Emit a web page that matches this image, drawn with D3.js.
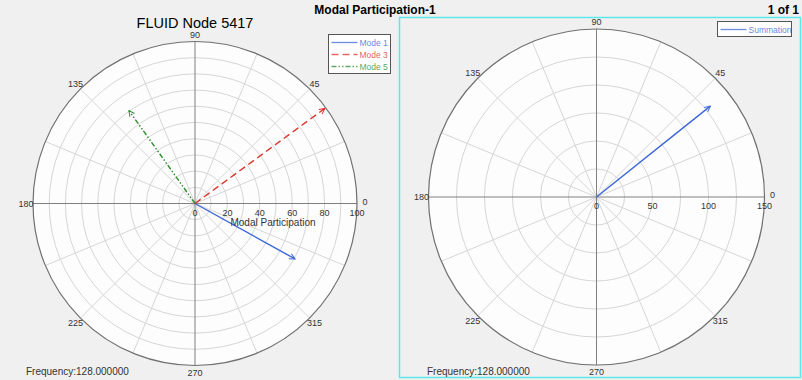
<!DOCTYPE html>
<html lang="en">
<head>
    <meta charset="UTF-8">
    <title>Modal Participation-1</title>
    <script src="https://d3js.org/d3.v7.min.js"></script>
    <style>
        body { margin: 0; background: #f0f0f0; font-family: "Liberation Sans", Arial, sans-serif; }
        svg { display: block; }
        .angle-label, .tick-label { font-size: 9px; fill: #333; text-anchor: middle; }
        .legend-text { font-size: 8.5px; }
    </style>
</head>
<body>
    <svg id="chart" width="802" height="380"></svg>

    <script>
        // values
        const modeNames = ["Mode 1", "Mode 3", "Mode 5"];
        const modeMagnitude = [70.6, 99.4, 70.4];
        const modePhase = [331, 36.2, 125.4];
        const modeColors = ["#3a66d6", "#d9352b", "#2e8b2e"];
        const modeDash = ["", "7,4", "5,2,1.5,2,1.5,2"];

        const sumNames = ["Summation"];
        const sumMagnitude = [130];
        const sumPhase = [38.6];

        const angleTicks = [0, 45, 90, 135, 180, 225, 270, 315];
        const spokeAngles = d3.range(0, 360, 22.5);
        const leftRadialTicks = [0, 20, 40, 60, 80, 100];
        const rightRadialTicks = [0, 50, 100, 150];

        const svg = d3.select("#chart");

        const defs = svg.append("defs");
        function arrowMarker(id, color) {
            defs.append("marker")
                .attr("id", id)
                .attr("viewBox", "0 0 10 10")
                .attr("refX", 9).attr("refY", 5)
                .attr("markerWidth", 7).attr("markerHeight", 7)
                .attr("markerUnits", "userSpaceOnUse")
                .attr("orient", "auto")
                .append("path")
                .attr("d", "M1,1 L9,5 L1,9")
                .attr("fill", "none")
                .attr("stroke", color)
                .attr("stroke-width", 1.4);
        }
        modeColors.forEach((c, i) => arrowMarker("arrow" + i, c));
        arrowMarker("arrowSum", "#3a66d6");

        // header
        svg.append("text")
            .attr("x", 375).attr("y", 14)
            .attr("text-anchor", "middle")
            .attr("font-size", 12).attr("font-weight", "bold")
            .text("Modal Participation-1");
        svg.append("text")
            .attr("x", 799).attr("y", 14)
            .attr("text-anchor", "end")
            .attr("font-size", 12).attr("font-weight", "bold")
            .text("1 of 1");

        // right panel frame
        svg.append("rect")
            .attr("x", 399.5).attr("y", 17.5)
            .attr("width", 401).attr("height", 360)
            .attr("fill", "none")
            .attr("stroke", "#5ee6ea")
            .attr("stroke-width", 1.5);

        function polarPlot(cx, cy, R, maxVal, ringStep, radialTicks, names, mags, phases, colors, dashes, markers) {
            const g = svg.append("g").attr("transform", `translate(${cx},${cy})`);
            const r = d3.scaleLinear().domain([0, maxVal]).range([0, R]);
            const rad = a => a * Math.PI / 180;

            g.append("circle").attr("r", R).attr("fill", "#fdfdfd");

            // rings
            g.selectAll(".ring")
                .data(d3.range(ringStep, maxVal, ringStep))
                .join("circle")
                .attr("r", d => r(d))
                .attr("fill", "none")
                .attr("stroke", "#d6d6d6")
                .attr("stroke-width", 1);

            // spokes
            g.selectAll(".spoke")
                .data(spokeAngles.filter(a => a % 90 !== 0))
                .join("line")
                .attr("x2", a => R * Math.cos(rad(a)))
                .attr("y2", a => -R * Math.sin(rad(a)))
                .attr("stroke", "#d6d6d6")
                .attr("stroke-width", 1);

            // main axes
            g.selectAll(".axis")
                .data([0, 90, 180, 270])
                .join("line")
                .attr("x2", a => R * Math.cos(rad(a)))
                .attr("y2", a => -R * Math.sin(rad(a)))
                .attr("stroke", "#808080")
                .attr("stroke-width", 1);

            g.append("circle").attr("r", R)
                .attr("fill", "none")
                .attr("stroke", "#707070")
                .attr("stroke-width", 1.2);

            // angle labels
            g.selectAll(".angle-label")
                .data(angleTicks)
                .join("text")
                .attr("class", "angle-label")
                .attr("x", a => (R + (a === 0 ? 8 : 7)) * Math.cos(rad(a)))
                .attr("y", a => -(R + 7) * Math.sin(rad(a)) + (a === 0 ? -2 : 0))
                .attr("dy", "0.35em")
                .text(d => d);

            // radial tick labels
            g.selectAll(".tick-label")
                .data(radialTicks)
                .join("text")
                .attr("class", "tick-label")
                .attr("x", d => r(d))
                .attr("y", 12)
                .text(d => d);

            // vectors
            g.selectAll(".vec")
                .data(mags)
                .join("line")
                .attr("x2", (d, i) => r(d) * Math.cos(rad(phases[i])))
                .attr("y2", (d, i) => -r(d) * Math.sin(rad(phases[i])))
                .attr("stroke", (d, i) => colors[i])
                .attr("stroke-width", 1.4)
                .attr("stroke-dasharray", (d, i) => dashes[i])
                .attr("marker-end", (d, i) => `url(#${markers[i]})`);

            return g;
        }

        // left plot
        const left = polarPlot(195, 203.5, 162, 100, 10, leftRadialTicks,
            modeNames, modeMagnitude, modePhase, modeColors, modeDash, ["arrow0", "arrow1", "arrow2"]);
        left.append("text")
            .attr("x", 78).attr("y", 22)
            .attr("text-anchor", "middle")
            .attr("font-size", 10).attr("fill", "#333")
            .text("Modal Participation");

        svg.append("text")
            .attr("x", 195).attr("y", 28)
            .attr("text-anchor", "middle")
            .attr("font-size", 14.5)
            .text("FLUID Node 5417");

        // right plot
        polarPlot(596.5, 197, 168, 150, 25, rightRadialTicks,
            sumNames, sumMagnitude, sumPhase, ["#3a66d6"], [""], ["arrowSum"]);

        // frequency labels
        [26, 427].forEach(x => {
            svg.append("text")
                .attr("x", x).attr("y", 375)
                .attr("font-size", 10).attr("fill", "#333")
                .text("Frequency:128.000000");
        });

        // legends
        function legend(x, y, w, names, colors, dashes) {
            const lg = svg.append("g").attr("transform", `translate(${x},${y})`);
            lg.append("rect")
                .attr("width", w).attr("height", names.length * 12 + 3)
                .attr("fill", "#fff")
                .attr("stroke", "#555")
                .attr("stroke-width", 1);
            names.forEach((n, i) => {
                const yy = 8 + i * 12;
                lg.append("line")
                    .attr("x1", 3).attr("x2", 29)
                    .attr("y1", yy).attr("y2", yy)
                    .attr("stroke", colors[i])
                    .attr("stroke-opacity", 0.75)
                    .attr("stroke-width", 1.3)
                    .attr("stroke-dasharray", dashes[i]);
                lg.append("text")
                    .attr("class", "legend-text")
                    .attr("x", 31).attr("y", yy + 3)
                    .attr("fill", colors[i])
                    .attr("fill-opacity", 0.8)
                    .text(n);
            });
        }
        legend(328.5, 34.5, 62, modeNames, modeColors, modeDash);
        legend(717.5, 21.5, 74, sumNames, ["#3a66d6"], [""]);
    </script>
</body>
</html>
